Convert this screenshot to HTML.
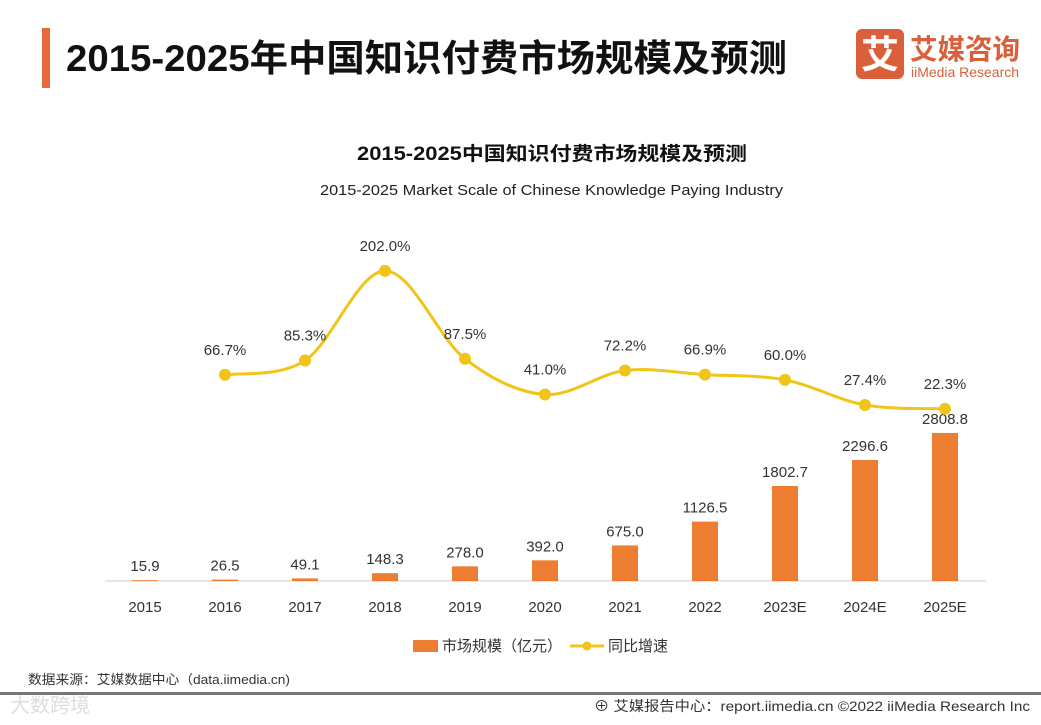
<!DOCTYPE html>
<html><head><meta charset="utf-8">
<style>
body{margin:0;width:1041px;height:720px;background:#fff;overflow:hidden;font-family:"Liberation Sans","Noto Sans CJK SC",sans-serif;}
</style></head>
<body>
<svg width="1041" height="720" xmlns="http://www.w3.org/2000/svg" id="chart" style="font-family:'Liberation Sans','Noto Sans CJK SC',sans-serif">
<rect x="42" y="28" width="8" height="60" fill="#e8683a"/>
<text x="66" y="71" font-size="37" font-weight="bold" fill="#111" textLength="721" lengthAdjust="spacingAndGlyphs">2015-2025年中国知识付费市场规模及预测</text>
<g>
<rect x="856" y="29" width="48" height="50" rx="6" fill="#d9603a"/>
<text x="880" y="68" font-size="38" font-weight="bold" fill="#fff" text-anchor="middle">艾</text>
<text x="910" y="59" font-size="28" font-weight="bold" fill="#d9603a" textLength="110" lengthAdjust="spacingAndGlyphs">艾媒咨询</text>
<text x="911" y="77" font-size="14" fill="#d9603a" textLength="108" lengthAdjust="spacingAndGlyphs">iiMedia Research</text>
</g>
<text x="357" y="160" font-size="19" font-weight="bold" fill="#111" textLength="390" lengthAdjust="spacingAndGlyphs">2015-2025中国知识付费市场规模及预测</text>
<text x="320" y="195" font-size="15" fill="#222" textLength="463" lengthAdjust="spacingAndGlyphs">2015-2025 Market Scale of Chinese Knowledge Paying Industry</text>
<line x1="105" y1="581" x2="986" y2="581" stroke="#ccc"/>
<g id="bars"></g><g id="line"></g><g id="xt"></g>
<g>
<rect x="413" y="640" width="25" height="12" fill="#ed7d31"/>
<text x="442" y="651" font-size="15" fill="#333">市场规模（亿元）</text>
<line x1="570" y1="646" x2="604" y2="646" stroke="#f0c419" stroke-width="3"/>
<circle cx="587" cy="646" r="4.5" fill="#f0c419"/>
<text x="608" y="651" font-size="15" fill="#333">同比增速</text>
</g>
<text x="28" y="684" font-size="13" fill="#333" textLength="262" lengthAdjust="spacingAndGlyphs">数据来源：艾媒数据中心（data.iimedia.cn)</text>
<rect x="0" y="692" width="1041" height="3" fill="#777"/>
<text x="10" y="712" font-size="20" fill="#ddd">大数跨境</text>
<text x="594" y="711" font-size="14" fill="#333" textLength="436" lengthAdjust="spacingAndGlyphs">⊕ 艾媒报告中心：report.iimedia.cn  ©2022  iiMedia Research  Inc</text>
</svg>
<script>
const categories=["2015","2016","2017","2018","2019","2020","2021","2022","2023E","2024E","2025E"];
const marketScale=[15.9,26.5,49.1,148.3,278.0,392.0,675.0,1126.5,1802.7,2296.6,2808.8];
const growth=[null,66.7,85.3,202.0,87.5,41.0,72.2,66.9,60.0,27.4,22.3];
const NS="http://www.w3.org/2000/svg";
const xPos=i=>145+i*80;
const yBar=v=>581-v*0.0527;
const yLine=v=>426-v*0.768;
function mk(t,a,p){const e=document.createElementNS(NS,t);for(const k in a)e.setAttribute(k,a[k]);p.appendChild(e);return e;}
const bars=document.getElementById('bars'),line=document.getElementById('line'),xt=document.getElementById('xt');
categories.forEach((c,i)=>{
  const x=xPos(i),y=yBar(marketScale[i]);
  const r=mk('rect',{x:x-13,y:y,width:26,height:581-y,fill:'#ed7d31'},bars);
  
  
  const t=mk('text',{x:x,y:y-9,'font-size':15,fill:'#333','text-anchor':'middle'},bars);
  t.textContent=marketScale[i].toFixed(1);
  
  
  const l=mk('text',{x:x,y:612,'font-size':15,fill:'#333','text-anchor':'middle'},xt);
  l.textContent=c;
  
  
});
const pts=[];growth.forEach((g,i)=>{if(g!==null)pts.push([xPos(i),yLine(g),g,categories[i]]);});
let d='M'+pts[0][0]+','+pts[0][1];
for(let i=0;i<pts.length-1;i++){
  const p0=pts[Math.max(i-1,0)],p1=pts[i],p2=pts[i+1],p3=pts[Math.min(i+2,pts.length-1)];
  const c1=[p1[0]+(p2[0]-p0[0])/6,p1[1]+(p2[1]-p0[1])/6],c2=[p2[0]-(p3[0]-p1[0])/6,p2[1]-(p3[1]-p1[1])/6];
  d+=`C${c1[0]},${c1[1]} ${c2[0]},${c2[1]} ${p2[0]},${p2[1]}`;
}
const path=mk('path',{d:d,fill:'none',stroke:'#f0c419','stroke-width':3},line);


pts.forEach(p=>{
  const c=mk('circle',{cx:p[0],cy:p[1],r:6,fill:'#f0c419'},line);
  
  
  const t=mk('text',{x:p[0],y:p[1]-20,'font-size':15,fill:'#333','text-anchor':'middle'},line);
  t.textContent=p[2].toFixed(1)+'%';
  
  
});
</script>
</body></html>
